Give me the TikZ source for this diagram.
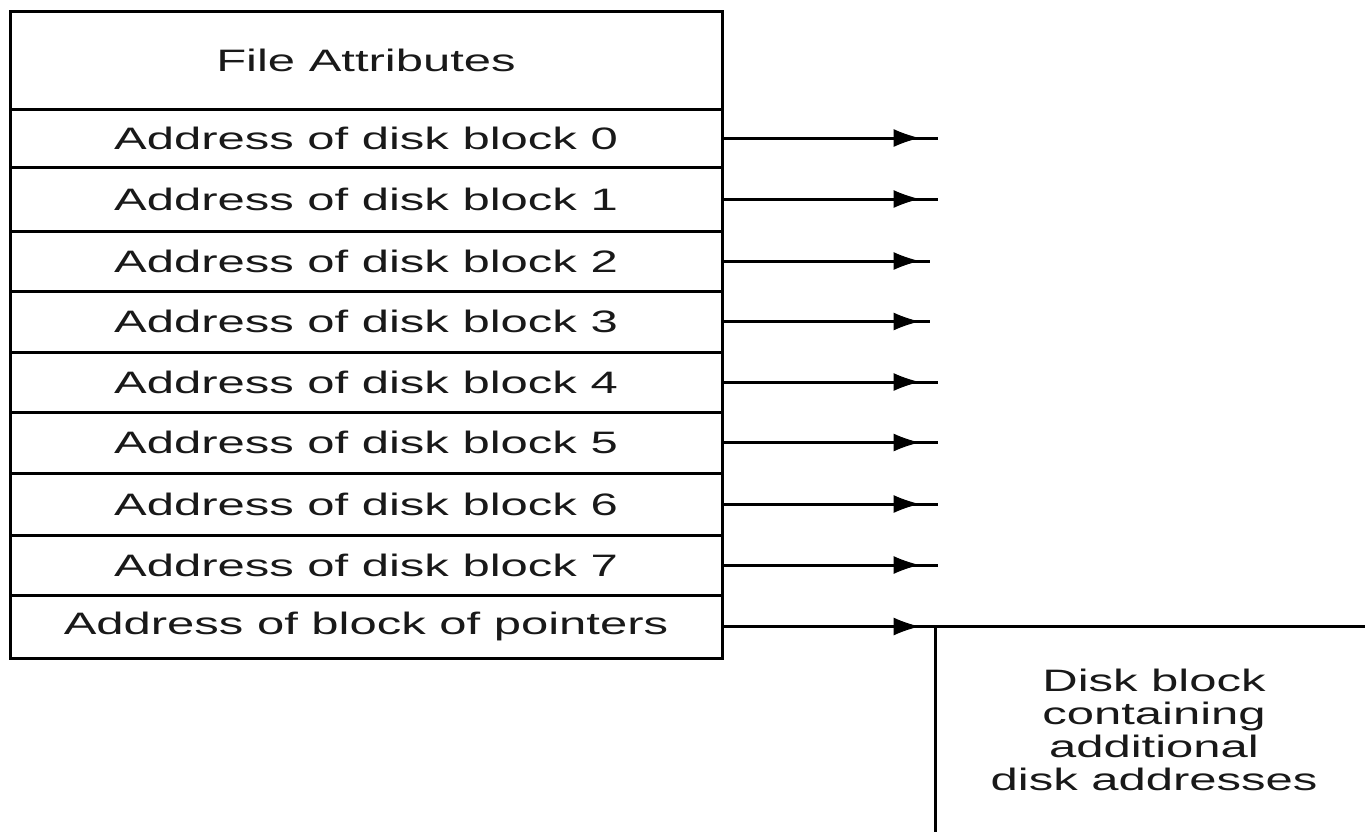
\documentclass[tikz,border=0pt]{standalone}
\usepackage{fontspec}
\setmainfont{Liberation Sans}
\usetikzlibrary{arrows.meta,decorations.markings}
\newcommand{\wide}[1]{\scalebox{1.58}[1]{#1}}
\begin{document}
\begin{tikzpicture}[x=1pt,y=-1pt,
  cell/.style={draw, line width=3pt, minimum width=712pt, inner sep=0pt,
    font=\fontsize{31}{33}\selectfont, text=black!90},
  conn/.style={line width=3pt, postaction={decorate},
    decoration={markings, mark=at position 196pt with {\arrow[line width=1pt]{Latex[length=26pt,width=18pt]}}}},
  boxline/.style={line width=3pt}]
\useasboundingbox (0,0) rectangle (1365,831);
\node[cell, minimum height=98pt] (fa) at (366,60) {\wide{File Attributes}};
\node[cell, minimum height=58pt] (r0) at (366,138) {\wide{Address of disk block 0}};
\node[cell, minimum height=64pt] (r1) at (366,199) {\wide{Address of disk block 1}};
\node[cell, minimum height=60pt] (r2) at (366,261) {\wide{Address of disk block 2}};
\node[cell, minimum height=61pt] (r3) at (366,321.5) {\wide{Address of disk block 3}};
\node[cell, minimum height=60pt] (r4) at (366,382) {\wide{Address of disk block 4}};
\node[cell, minimum height=61pt] (r5) at (366,442.5) {\wide{Address of disk block 5}};
\node[cell, minimum height=62pt] (r6) at (366,504) {\wide{Address of disk block 6}};
\node[cell, minimum height=60pt] (r7) at (366,565) {\wide{Address of disk block 7}};
\node[cell, minimum height=63pt] (r8) at (366,626.5) {\wide{Address of block of pointers}};
\coordinate (e0) at (938,138);
\coordinate (e1) at (938,199);
\coordinate (e2) at (930,261);
\coordinate (e3) at (930,321.5);
\coordinate (e4) at (938,382);
\coordinate (e5) at (938,442.5);
\coordinate (e6) at (938,504);
\coordinate (e7) at (938,565);
\coordinate (bx) at (935,626.5);
\coordinate (bxr) at (1370,626.5);
\coordinate (bxb) at (935,836);
\foreach \i in {0,...,7} {\draw[conn] (r\i.east) -- (e\i);}
\draw[conn] (r8.east) -- (bx);
\draw[boxline] (bxr) -- (bx) -- (bxb);
\node[font=\fontsize{31}{33}\selectfont, text=black!90, inner sep=0pt] (db) at (1154,734)
  {\wide{\begin{tabular}{@{}c@{}}Disk block\\containing\\additional\\disk addresses\end{tabular}}};
\end{tikzpicture}
\end{document}
